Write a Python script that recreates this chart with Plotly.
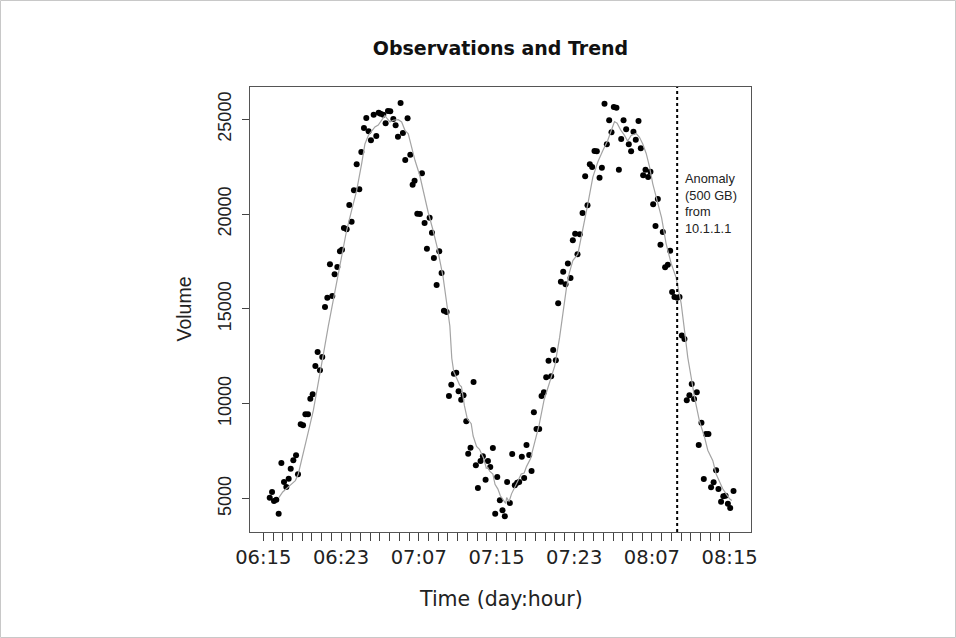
import plotly.graph_objects as go

# ---- data (hours after 06:15, volume) ----
obs_hours = [
    0.66, 0.90, 1.10, 1.34, 1.58, 1.86, 2.13, 2.37, 2.61, 2.82, 3.09, 3.37, 3.57, 3.85, 4.09, 4.33,
    4.60, 4.84, 5.08, 5.36, 5.59, 5.83, 6.07, 6.35, 6.59, 6.86, 7.10, 7.34, 7.62, 7.89,
    8.10, 8.30, 8.58, 8.85, 9.09, 9.33, 9.61, 9.88, 10.09, 10.36, 10.60, 10.84, 11.08, 11.36,
    11.63, 11.87, 12.07, 12.35, 12.59, 12.83, 13.07, 13.38, 13.62, 13.86, 14.13, 14.37, 14.61,
    14.85, 15.13, 15.37, 15.57, 15.85, 16.12, 16.33, 16.60, 16.84, 17.12, 17.36, 17.56, 17.84,
    18.11, 18.35, 18.59,
    18.87, 19.11, 19.35, 19.62, 19.86, 20.10, 20.37, 20.61, 20.89, 21.09, 21.33, 21.64, 21.88,
    22.09, 22.36, 22.60, 22.88, 23.12, 23.36, 23.63, 23.87, 24.08, 24.35, 24.62, 24.86, 25.10,
    25.38, 25.62, 25.89, 26.13, 26.34, 26.61, 26.85, 27.09, 27.37, 27.61, 27.85, 28.12, 28.40,
    28.64, 28.88, 29.12, 29.36, 29.63, 29.84, 30.11, 30.35, 30.63, 30.87, 31.11, 31.35, 31.62,
    31.86, 32.10, 32.34, 32.58,
    32.86, 33.13, 33.37, 33.61, 33.85, 34.09, 34.33, 34.61, 34.85, 35.12, 35.36, 35.60, 35.84,
    36.08, 36.35, 36.60, 36.84, 37.08, 37.35, 37.62, 37.86, 38.10, 38.34, 38.62, 38.86, 39.10,
    39.34, 39.61, 39.85, 40.13, 40.37, 40.61, 40.88, 41.12, 41.36, 41.64, 41.88, 42.08, 42.32,
    42.60, 42.84, 43.08, 43.35, 43.59, 43.86, 44.10, 44.34, 44.62, 44.82, 45.10, 45.34, 45.56,
    45.82, 46.09, 46.35, 46.61, 46.85, 47.12, 47.35, 47.58, 47.82, 48.06, 48.40,
]
obs_volume = [
    5047, 5346, 4871, 4941, 4203, 6876, 5873, 5609, 6049, 6577, 7016, 7280, 6278, 8915, 8862, 9442,
    9442, 10268, 10497, 11991, 12730, 11763, 12466, 15103, 15595, 17353, 15683, 16826, 17212, 18039,
    18126, 19269, 19199, 20482, 19603, 21256, 22627, 21308, 23277, 24543, 25070, 24367, 23893, 25246,
    24121, 25352, 25299, 25246, 24789, 25440, 25422, 25018, 24684, 24086, 25862, 24279, 22855,
    25053, 23137, 21554, 21765, 20025, 20007, 22152, 19533, 18179, 19814, 19023, 17687, 16263,
    18039, 16896, 14910,
    14839, 10409, 11007, 11587, 11640, 10655, 10216, 10444, 9073, 7368, 7684, 11147, 6753,
    5557, 6981, 7227, 5997, 6981, 6665, 7667, 4204, 6137, 4908, 4381, 4064, 5875,
    4767, 7352, 5699, 5840, 5875, 7211, 6086, 7826, 7299, 6455, 9549, 8670, 8670,
    10410, 10604, 11395, 12274, 11448, 12837, 12292, 15300, 16440, 16960, 16300, 17400, 16632,
    18619, 18971, 17881, 18936,
    20061, 21994, 20465, 22627, 22487, 23330, 23313, 21924, 22451, 25827, 23682, 24948, 24315,
    25651, 25616, 22346, 23963, 24948, 24473, 23682, 23313, 24350, 23928, 24913, 23471, 22047,
    22346, 21959, 22240, 20518, 19375, 20800, 18390, 19058, 17200, 17330, 18065, 15900, 15630,
    15595, 15630, 13600, 13420, 10180, 10446, 11040, 10250, 10610, 7830, 9000, 6030, 8400,
    8400, 5600, 5865, 6500, 5505, 4840, 5130, 5150, 4730, 4510, 5400,
]

trend_hours = [
    1.6, 2.0, 2.75, 3.3, 3.6, 4.1, 4.6, 5.15, 5.66, 6.18, 6.69, 7.03, 7.55, 8.06, 8.58, 9.09,
    9.61, 10.12, 10.46, 10.81, 11.15, 11.49, 11.83, 12.18, 12.52, 12.76, 13.04, 13.38, 13.89,
    14.24, 14.58, 14.92, 15.26, 15.61, 16.1, 16.5, 16.97, 17.47, 17.9, 18.5, 18.9, 19.2, 19.4,
    19.6, 19.95, 20.2, 20.4, 20.7, 21.0, 21.4, 21.6, 21.95, 22.25, 22.7, 22.95, 23.1, 23.3,
    23.63, 23.85, 24.15, 24.4, 24.7, 24.95, 25.05, 25.3, 25.55, 26.05, 26.55, 26.85, 27.1,
    27.5, 27.95, 28.4, 28.9, 29.45, 30.0, 30.5, 30.85, 31.2, 31.5, 31.86, 32.38, 32.89, 33.41,
    33.92, 34.43, 34.95, 35.46, 35.81, 36.15, 36.42, 36.77, 37.18, 37.5, 37.86, 38.38, 38.72,
    39.06, 39.41, 39.75, 40.09, 40.44, 40.78, 41.0, 41.46, 41.98, 42.49, 42.75, 43.01, 43.35,
    43.69, 44.04, 44.38, 44.89, 45.41, 45.75, 46.03, 46.27, 46.61, 46.95, 47.29, 47.64, 47.98,
    48.22,
]
trend_volume = [
    5050, 5350, 5700, 5950, 6300, 7300, 8450, 9650, 11050, 12600, 14100, 15000, 16500, 17900,
    19150, 20200, 21250, 22650, 23700, 24150, 24400, 24600, 24700, 24950, 25200, 25030, 24860,
    24950, 24980, 24860, 24420, 24240, 23540, 22840, 22050, 21150, 20100, 19150, 18250, 16700,
    15100, 14100, 12400, 11700, 11300, 11000, 10900, 9900, 9200, 8950, 8300, 7750, 7600, 7100,
    6600, 6650, 6450, 6300, 5750, 5500, 5150, 4900, 4750, 5050, 4850, 5250, 5750, 6300, 6350,
    6700, 7100, 7950, 8900, 10200, 11100, 12000, 13500, 14900, 16100, 16900, 17550, 17900,
    19150, 20550, 21950, 22750, 23350, 23900, 24400, 24880, 24800, 24450, 24150, 23850, 24150,
    24250, 24050, 23700, 23200, 22500, 21600, 20900, 20200, 19800, 18450, 17400, 16650, 15980,
    15300, 13900, 12450, 11400, 10350, 9100, 8250, 7550, 7200, 7000, 6300, 5870, 5520, 5250,
    5000, 4900,
]

tick_label_text = ["06:15", "06:23", "07:07", "07:15", "07:23", "08:07", "08:15"]
hours_per_label = 8
y_tick_values = [5000, 10000, 15000, 20000, 25000]
anomaly_hour = 42.6
anomaly_text = "Anomaly<br>(500 GB)<br>from<br>10.1.1.1"

tick_hours = list(range(0, hours_per_label * (len(tick_label_text) - 1) + 1))
tick_text = [tick_label_text[h // hours_per_label] if h % hours_per_label == 0 else ""
             for h in tick_hours]

FONT = "Liberation Sans, Arial, Helvetica, sans-serif"
WIDE = "DejaVu Sans, Verdana, sans-serif"

fig = go.Figure()
fig.add_trace(go.Scatter(
    x=obs_hours, y=obs_volume, mode="markers",
    marker=dict(color="black", size=6, line=dict(width=0)),
    showlegend=False,
))
fig.add_trace(go.Scatter(
    x=trend_hours, y=trend_volume, mode="lines",
    line=dict(color="#a4a4a4", width=1.2),
    showlegend=False,
))

fig.add_shape(type="line", xref="x", yref="paper", x0=anomaly_hour, x1=anomaly_hour,
              y0=0, y1=1, line=dict(color="black", width=2, dash="dot"))

fig.add_annotation(x=anomaly_hour, y=22400, xref="x", yref="y", text=anomaly_text,
                   showarrow=False, xanchor="left", yanchor="top", xshift=6, align="left",
                   font=dict(family=FONT, size=12.8, color="#222"))

# axis titles
fig.add_annotation(x=0.5, y=0, xref="paper", yref="paper", text="Time (day:hour)",
                   showarrow=False, xanchor="center", yanchor="middle", yshift=-67,
                   font=dict(family=WIDE, size=20.5, color="#222"))
fig.add_annotation(x=0, y=0.5, xref="paper", yref="paper", text="Volume", textangle=-90,
                   showarrow=False, xanchor="center", yanchor="middle", xshift=-67,
                   font=dict(family=FONT, size=19.5, color="#222"))

# image border
W, H = 956, 638
L, R, T, B = 250, 205, 87, 106
pw, ph = W - L - R, H - T - B
fig.add_shape(type="rect", xref="paper", yref="paper",
              x0=(-L + 0.5) / pw, x1=1 + (R - 0.5) / pw,
              y0=(-B + 0.5) / ph, y1=1 + (T - 0.5) / ph,
              line=dict(color="#c8c8c8", width=1), fillcolor="rgba(0,0,0,0)")

fig.update_layout(
    width=W, height=H,
    margin=dict(l=L, r=R, t=T, b=B),
    paper_bgcolor="white", plot_bgcolor="white",
    font=dict(family=FONT, color="#222"),
    title=dict(text="<b>Observations and Trend</b>", x=0.5, xref="paper", xanchor="center",
               y=1 - 48 / H, yref="container", yanchor="middle",
               font=dict(family=WIDE, size=19, color="#111")),
    xaxis=dict(range=[-1.37, 50.2], tickvals=tick_hours, ticktext=tick_text,
               ticks="outside", ticklen=8, tickcolor="#444", tickwidth=1,
               showgrid=False, zeroline=False, showline=True, mirror=True,
               linecolor="#555", linewidth=1,
               tickfont=dict(family=WIDE, size=19.5, color="#222")),
    yaxis=dict(range=[3239, 26704], tickvals=y_tick_values,
               ticktext=[str(v) for v in y_tick_values], tickangle=-90,
               ticks="outside", ticklen=7, tickcolor="#444", tickwidth=1,
               ticklabelstandoff=4,
               showgrid=False, zeroline=False, showline=True, mirror=True,
               linecolor="#555", linewidth=1,
               tickfont=dict(family=FONT, size=18, color="#222")),
)

fig.write_html("out.html", config={"displayModeBar": False},
               post_script="document.body.style.margin='0px';document.body.style.overflow='hidden';")
